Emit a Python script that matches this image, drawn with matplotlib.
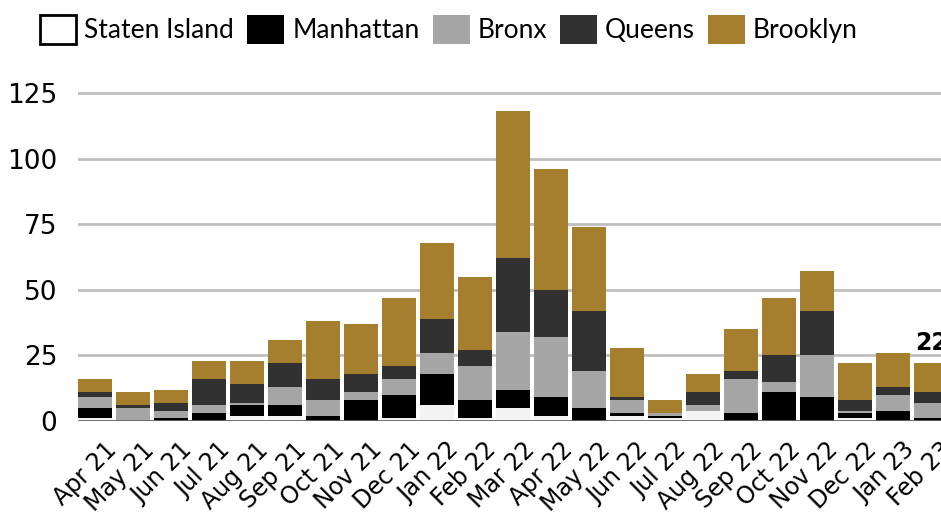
import matplotlib
matplotlib.use("Agg")
import matplotlib.pyplot as plt
import matplotlib.transforms as mtransforms
from matplotlib.patches import Patch
import numpy as np

months = ["Apr 21", "May 21", "Jun 21", "Jul 21", "Aug 21", "Sep 21", "Oct 21", "Nov 21",
          "Dec 21", "Jan 22", "Feb 22", "Mar 22", "Apr 22", "May 22", "Jun 22", "Jul 22",
          "Aug 22", "Sep 22", "Oct 22", "Nov 22", "Dec 22", "Jan 23", "Feb 23"]

staten = [1, 0, 0, 0, 2, 2, 0, 0, 1, 6, 1, 5, 2, 0, 2, 1, 4, 0, 0, 0, 1, 0, 0]
manhattan = [4, 0, 1, 3, 4, 4, 2, 8, 9, 12, 7, 7, 7, 5, 1, 1, 0, 3, 11, 9, 2, 4, 1]
bronx = [4, 5, 3, 3, 1, 7, 6, 3, 6, 8, 13, 22, 23, 14, 5, 1, 2, 13, 4, 16, 1, 6, 6]
queens = [2, 1, 3, 10, 7, 9, 8, 7, 5, 13, 6, 28, 18, 23, 1, 0, 5, 3, 10, 17, 4, 3, 4]
brooklyn = [5, 5, 5, 7, 9, 9, 22, 19, 26, 29, 28, 56, 46, 32, 19, 5, 7, 16, 22, 15, 14, 13, 11]

boroughs = ["Staten Island", "Manhattan", "Bronx", "Queens", "Brooklyn"]
series = [staten, manhattan, bronx, queens, brooklyn]
colors = ["#f2f3f2", "#000000", "#a6a6a6", "#313131", "#a57f2d"]

W, H = 941, 517
fig = plt.figure(figsize=(W / 100, H / 100), dpi=100)
ax = fig.add_axes([78 / W, 96 / H, (W - 78) / W, 341 / H])

x = np.arange(len(months))
bottom = np.zeros(len(months))
for vals, col in zip(series, colors):
    ax.bar(x, vals, width=0.9, bottom=bottom, color=col, linewidth=0, zorder=3)
    bottom += np.array(vals)

# only the last bar carries a total label
ax.text(x[-1], bottom[-1] + 3, f"{int(bottom[-1])}", ha="center", va="bottom",
        fontsize=17, fontweight="bold", family="DejaVu Sans", clip_on=False)

ax.set_xlim(-0.45, 22.26)
ax.set_ylim(0, 130)
ax.set_yticks([0, 25, 50, 75, 100, 125])
ax.yaxis.grid(True, color="#bfbfbf", linewidth=2, zorder=0)
ax.axhline(0, color="#666666", linewidth=2, zorder=4)
for s in ax.spines.values():
    s.set_visible(False)
ax.tick_params(axis="both", length=0)
ax.tick_params(axis="y", pad=15, labelsize=19)
ax.tick_params(axis="x", labelsize=17)
ax.set_xticks(x)
ax.set_xticklabels(months, rotation=45, ha="right", rotation_mode="anchor")
shift = mtransforms.ScaledTranslation(9 / 100, -12 / 100, fig.dpi_scale_trans)
for lab in ax.get_xticklabels():
    lab.set_transform(lab.get_transform() + shift)
for lab in ax.get_xticklabels() + ax.get_yticklabels():
    lab.set_family("DejaVu Sans")

handles = [Patch(facecolor="white" if i == 0 else c, edgecolor="black" if i == 0 else c,
                 linewidth=2 if i == 0 else 0)
           for i, c in enumerate(colors)]
fig.legend(handles, boroughs, loc="upper left", bbox_to_anchor=(25 / W, 1.0), ncol=5,
           frameon=False, prop={"family": "Lato", "size": 19}, handlelength=1.4,
           handleheight=1.35, handletextpad=0.3, columnspacing=0.5, borderaxespad=0.15)

fig.savefig("out.png", dpi=100)
